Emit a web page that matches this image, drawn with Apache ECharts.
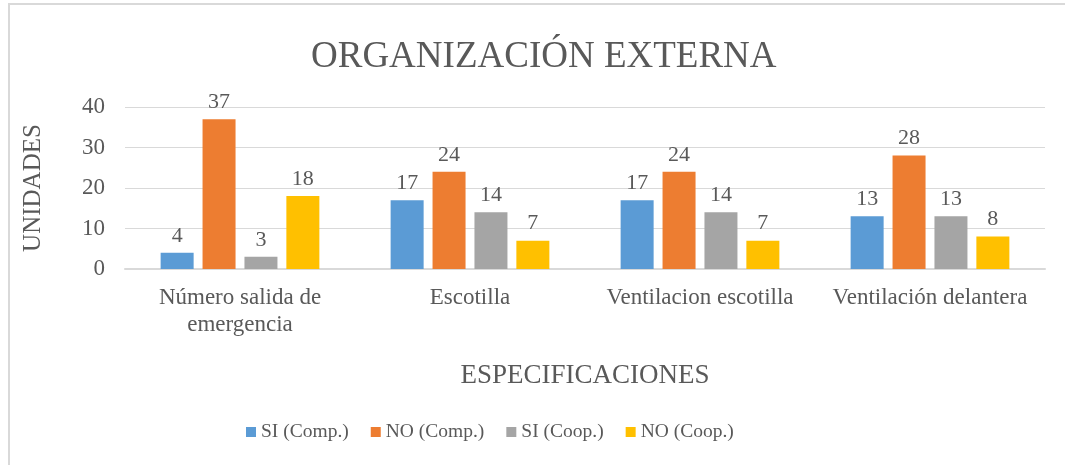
<!DOCTYPE html>
<html>
<head>
<meta charset="utf-8">
<script src="https://cdn.jsdelivr.net/npm/echarts@6/dist/echarts.min.js"></script>
<style>
  html, body { margin: 0; padding: 0; background: #fff; }
  #chart { width: 1065px; height: 465px; }
</style>
</head>
<body>
<div id="chart"></div>
<script>
// categories and values
var categories = ['Número salida de\nemergencia', 'Escotilla', 'Ventilacion escotilla', 'Ventilación delantera'];
var siComp = [4, 17, 17, 13];
var noComp = [37, 24, 24, 28];
var siCoop = [3, 14, 14, 13];
var noCoop = [18, 7, 7, 8];
var seriesNames = ['SI (Comp.)', 'NO (Comp.)', 'SI (Coop.)', 'NO (Coop.)'];
var colors = ['#5b9bd5', '#ed7d31', '#a5a5a5', '#ffc000'];

var fontFam = '"Liberation Serif", "Times New Roman", serif';
var textCol = '#595959';

function makeSeries(name, data, color) {
	return {
		name: name,
		type: 'bar',
		barWidth: 33,
		barGap: '27%',
		data: data,
		itemStyle: { color: color },
		label: {
			show: true,
			position: 'top',
			distance: 6,
			color: textCol,
			fontFamily: fontFam,
			fontSize: 22
		}
	};
}

var myChart = echarts.init(document.getElementById('chart'), null, { renderer: 'canvas' });
var option = {
	animation: false,
	color: colors,
	textStyle: { fontFamily: fontFam },
	title: {
		text: 'ORGANIZACIÓN EXTERNA',
		left: 306,
		top: 34,
		textStyle: {
			fontFamily: fontFam,
			fontSize: 37,
			fontWeight: 'normal',
			color: textCol
		}
	},
	legend: {
		bottom: 18,
		left: 241,
		icon: 'rect',
		itemWidth: 10,
		itemHeight: 10,
		itemGap: 22,
		textStyle: { fontFamily: fontFam, fontSize: 19.5, color: textCol },
		data: seriesNames
	},
	grid: {
		left: 125,
		right: 20,
		top: 107,
		bottom: 196
	},
	xAxis: {
		type: 'category',
		data: categories,
		name: 'ESPECIFICACIONES',
		nameLocation: 'middle',
		nameGap: 93,
		nameTextStyle: { fontFamily: fontFam, fontSize: 27, color: textCol },
		axisLine: { lineStyle: { color: '#d9d9d9', width: 2 } },
		axisTick: { show: false },
		axisLabel: {
			fontFamily: fontFam,
			fontSize: 23,
			color: textCol,
			margin: 15,
			lineHeight: 27,
			interval: 0
		}
	},
	yAxis: {
		type: 'value',
		min: 0,
		max: 40,
		interval: 10,
		name: 'UNIDADES',
		nameLocation: 'middle',
		nameGap: 79,
		nameRotate: 90,
		nameTextStyle: { fontFamily: fontFam, fontSize: 25, color: textCol },
		axisLine: { show: false },
		axisTick: { show: false },
		splitLine: { lineStyle: { color: '#d9d9d9', width: 1 } },
		axisLabel: {
			fontFamily: fontFam,
			fontSize: 23,
			color: textCol,
			margin: 20
		}
	},
	graphic: [{
		type: 'rect',
		shape: { x: 9, y: 4, width: 2000, height: 1000 },
		style: { fill: 'none', stroke: '#d9d9d9', lineWidth: 2 },
		silent: true
	}],
	series: [
		makeSeries(seriesNames[0], siComp, colors[0]),
		makeSeries(seriesNames[1], noComp, colors[1]),
		makeSeries(seriesNames[2], siCoop, colors[2]),
		makeSeries(seriesNames[3], noCoop, colors[3])
	]
};
myChart.setOption(option);
</script>
</body>
</html>
